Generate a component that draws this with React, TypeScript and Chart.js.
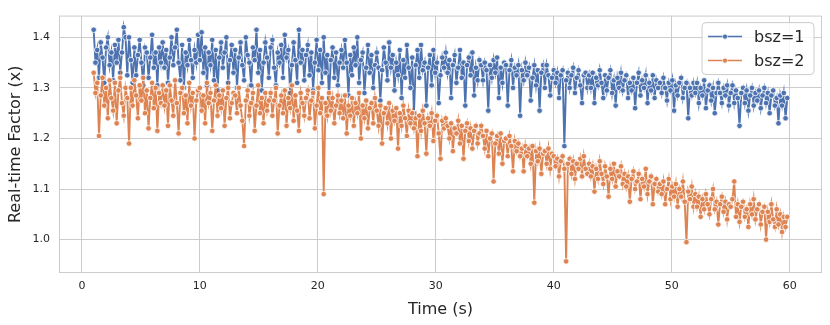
import React, { useEffect, useRef } from 'react';
import { Chart, registerables } from 'chart.js';
Chart.register(...registerables);

const START_TIME = 1.0;
const TIME_STEP = 0.15;

const bsz1: number[] = [
  1.415, 1.35, 1.375, 1.32, 1.39, 1.36, 1.31, 1.38, 1.40, 1.345, 1.37, 1.315, 1.385, 1.35, 1.395, 1.33, 1.37, 1.42, 1.40, 1.325,
  1.40, 1.355, 1.31, 1.38, 1.325, 1.365, 1.395, 1.35, 1.305, 1.38, 1.37, 1.32, 1.36, 1.405, 1.34, 1.37, 1.305, 1.38, 1.35, 1.39,
  1.34, 1.375, 1.31, 1.36, 1.40, 1.345, 1.38, 1.415, 1.35, 1.315, 1.385, 1.30, 1.37, 1.345, 1.395, 1.355, 1.32, 1.375, 1.35, 1.405,
  1.355, 1.41, 1.33, 1.38, 1.305, 1.37, 1.345, 1.395, 1.315, 1.375, 1.295, 1.36, 1.39, 1.34, 1.37, 1.40, 1.31, 1.355, 1.385, 1.33,
  1.375, 1.30, 1.36, 1.39, 1.345, 1.315, 1.40, 1.365, 1.35, 1.305, 1.38, 1.355, 1.415, 1.33, 1.375, 1.295, 1.35, 1.39, 1.36, 1.32,
  1.38, 1.395, 1.34, 1.305, 1.37, 1.35, 1.385, 1.32, 1.405, 1.36, 1.375, 1.29, 1.345, 1.39, 1.355, 1.31, 1.415, 1.35, 1.375, 1.315,
  1.365, 1.385, 1.325, 1.37, 1.295, 1.35, 1.395, 1.335, 1.375, 1.31, 1.40, 1.33, 1.365, 1.28, 1.355, 1.38, 1.32, 1.37, 1.305, 1.35,
  1.375, 1.34, 1.395, 1.35, 1.285, 1.365, 1.325, 1.38, 1.345, 1.40, 1.31, 1.355, 1.37, 1.29, 1.34, 1.385, 1.33, 1.365, 1.30, 1.345,
  1.37, 1.34, 1.275, 1.335, 1.38, 1.35, 1.315, 1.39, 1.34, 1.365, 1.295, 1.35, 1.325, 1.375, 1.28, 1.355, 1.32, 1.385, 1.34, 1.30,
  1.36, 1.25, 1.345, 1.375, 1.32, 1.385, 1.335, 1.35, 1.265, 1.34, 1.365, 1.305, 1.375, 1.33, 1.35, 1.27, 1.325, 1.36, 1.34, 1.37,
  1.33, 1.355, 1.28, 1.345, 1.365, 1.31, 1.34, 1.375, 1.32, 1.35, 1.265, 1.345, 1.36, 1.325, 1.37, 1.285, 1.34, 1.315, 1.355, 1.345,
  1.315, 1.35, 1.335, 1.255, 1.345, 1.32, 1.355, 1.33, 1.36, 1.28, 1.34, 1.31, 1.35, 1.345, 1.265, 1.335, 1.355, 1.30, 1.34, 1.325,
  1.345, 1.245, 1.335, 1.315, 1.35, 1.325, 1.34, 1.275, 1.32, 1.345, 1.305, 1.335, 1.255, 1.33, 1.345, 1.30, 1.345, 1.325, 1.285, 1.32,
  1.335, 1.31, 1.33, 1.28, 1.325, 1.335, 1.185, 1.315, 1.33, 1.30, 1.325, 1.34, 1.29, 1.32, 1.335, 1.305, 1.27, 1.325, 1.33, 1.30,
  1.325, 1.30, 1.33, 1.27, 1.32, 1.305, 1.335, 1.31, 1.28, 1.325, 1.295, 1.32, 1.335, 1.29, 1.315, 1.265, 1.32, 1.30, 1.33, 1.295,
  1.315, 1.325, 1.28, 1.31, 1.295, 1.32, 1.26, 1.31, 1.33, 1.285, 1.315, 1.30, 1.325, 1.27, 1.31, 1.295, 1.325, 1.28, 1.315, 1.30,
  1.31, 1.29, 1.32, 1.30, 1.275, 1.31, 1.295, 1.315, 1.255, 1.305, 1.285, 1.31, 1.32, 1.28, 1.30, 1.31, 1.24, 1.30, 1.285, 1.31,
  1.29, 1.31, 1.27, 1.30, 1.285, 1.315, 1.26, 1.295, 1.305, 1.275, 1.30, 1.25, 1.29, 1.31, 1.29, 1.27, 1.30, 1.285, 1.305, 1.265,
  1.29, 1.305, 1.27, 1.295, 1.28, 1.225, 1.29, 1.30, 1.27, 1.295, 1.255, 1.285, 1.30, 1.265, 1.29, 1.275, 1.295, 1.26, 1.285, 1.30,
  1.27, 1.29, 1.25, 1.285, 1.295, 1.265, 1.28, 1.23, 1.285, 1.265, 1.29, 1.24, 1.28,
];

const bsz2: number[] = [
  1.33, 1.29, 1.31, 1.205, 1.285, 1.32, 1.265, 1.30, 1.24, 1.315, 1.28, 1.255, 1.31, 1.23, 1.295, 1.32, 1.27, 1.245, 1.30, 1.28,
  1.19, 1.30, 1.265, 1.315, 1.285, 1.24, 1.305, 1.275, 1.32, 1.25, 1.295, 1.22, 1.28, 1.31, 1.26, 1.30, 1.215, 1.29, 1.27, 1.305,
  1.265, 1.295, 1.225, 1.305, 1.275, 1.245, 1.315, 1.27, 1.21, 1.29, 1.30, 1.25, 1.285, 1.23, 1.31, 1.265, 1.29, 1.20, 1.275, 1.295,
  1.30, 1.255, 1.285, 1.23, 1.31, 1.27, 1.29, 1.215, 1.275, 1.305, 1.245, 1.285, 1.26, 1.295, 1.225, 1.28, 1.30, 1.24, 1.27, 1.29,
  1.285, 1.25, 1.30, 1.265, 1.235, 1.185, 1.275, 1.295, 1.245, 1.27, 1.29, 1.215, 1.265, 1.305, 1.25, 1.28, 1.23, 1.29, 1.255, 1.275,
  1.29, 1.245, 1.275, 1.30, 1.21, 1.265, 1.285, 1.25, 1.295, 1.225, 1.28, 1.26, 1.305, 1.235, 1.285, 1.255, 1.215, 1.29, 1.27, 1.245,
  1.28, 1.295, 1.24, 1.275, 1.29, 1.22, 1.265, 1.30, 1.25, 1.28, 1.09, 1.27, 1.245, 1.29, 1.255, 1.28, 1.23, 1.265, 1.285, 1.25,
  1.275, 1.24, 1.285, 1.21, 1.265, 1.245, 1.28, 1.225, 1.27, 1.25, 1.29, 1.20, 1.265, 1.24, 1.275, 1.22, 1.26, 1.27, 1.23, 1.28,
  1.255, 1.225, 1.265, 1.19, 1.25, 1.26, 1.23, 1.27, 1.20, 1.255, 1.235, 1.26, 1.18, 1.25, 1.225, 1.265, 1.24, 1.205, 1.255, 1.23,
  1.25, 1.22, 1.24, 1.165, 1.245, 1.215, 1.255, 1.23, 1.17, 1.24, 1.225, 1.25, 1.195, 1.235, 1.245, 1.21, 1.16, 1.235, 1.22, 1.24,
  1.225, 1.20, 1.23, 1.175, 1.22, 1.21, 1.235, 1.19, 1.225, 1.16, 1.215, 1.23, 1.195, 1.22, 1.18, 1.215, 1.225, 1.19, 1.21, 1.225,
  1.205, 1.18, 1.215, 1.165, 1.20, 1.21, 1.115, 1.19, 1.205, 1.17, 1.21, 1.15, 1.195, 1.20, 1.165, 1.205, 1.185, 1.135, 1.195, 1.175,
  1.19, 1.165, 1.18, 1.135, 1.185, 1.165, 1.18, 1.15, 1.185, 1.073, 1.175, 1.155, 1.18, 1.13, 1.17, 1.175, 1.15, 1.18, 1.14, 1.17,
  1.165, 1.145, 1.16, 1.125, 1.155, 1.165, 1.14, 0.957, 1.15, 1.16, 1.13, 1.155, 1.12, 1.15, 1.14, 1.16, 1.125, 1.165, 1.14, 1.13,
  1.15, 1.125, 1.145, 1.095, 1.14, 1.12, 1.155, 1.13, 1.11, 1.145, 1.125, 1.085, 1.14, 1.12, 1.15, 1.105, 1.135, 1.125, 1.145, 1.11,
  1.13, 1.105, 1.125, 1.075, 1.12, 1.135, 1.10, 1.115, 1.13, 1.08, 1.12, 1.105, 1.14, 1.09, 1.115, 1.125, 1.07, 1.11, 1.12, 1.095,
  1.11, 1.09, 1.115, 1.07, 1.10, 1.12, 1.08, 1.105, 1.085, 1.11, 1.065, 1.10, 1.085, 1.115, 1.075, 0.995, 1.095, 1.08, 1.105, 1.065,
  1.09, 1.065, 1.085, 1.045, 1.08, 1.06, 1.09, 1.07, 1.05, 1.08, 1.10, 1.06, 1.075, 1.03, 1.07, 1.085, 1.055, 1.075, 1.04, 1.07,
  1.065, 1.08, 1.115, 1.045, 1.07, 1.035, 1.065, 1.075, 1.045, 1.06, 1.025, 1.07, 1.05, 1.08, 1.04, 1.06, 1.07, 1.03, 1.055, 1.065,
  1.00, 1.055, 1.035, 1.07, 1.04, 1.025, 1.06, 1.03, 1.05, 1.015, 1.045, 1.025, 1.045,
];

const seriesLabels = ['bsz=1', 'bsz=2'];
const seriesColors = ['#4c72b0', '#dd8452'];
const xTicks = [0, 10, 20, 30, 40, 50, 60];
const yTicks = [1.0, 1.1, 1.2, 1.3, 1.4];
const xTitle = 'Time (s)';
const yTitle = 'Real-time Factor (x)';

const FONT = "'DejaVu Sans', sans-serif";
const TEXT = '#262626';
const GRID = '#cccccc';

const framePlugin = {
  id: 'frame',
  beforeDatasetsDraw(chart: any) {
    const { ctx, chartArea: a } = chart;
    ctx.save();
    ctx.strokeStyle = GRID;
    ctx.lineWidth = 1;
    ctx.strokeRect(a.left + 0.5, a.top + 0.5, a.right - a.left - 1, a.bottom - a.top - 1);
    ctx.restore();
  },
};

const legendPlugin = {
  id: 'mplLegend',
  afterDraw(chart: any) {
    const { ctx, chartArea: a } = chart;
    const w = 112, h = 52;
    const x0 = a.right - 8 - w;
    const y0 = a.top + 7;
    ctx.save();
    ctx.beginPath();
    const r = 4;
    ctx.moveTo(x0 + r, y0);
    ctx.lineTo(x0 + w - r, y0);
    ctx.quadraticCurveTo(x0 + w, y0, x0 + w, y0 + r);
    ctx.lineTo(x0 + w, y0 + h - r);
    ctx.quadraticCurveTo(x0 + w, y0 + h, x0 + w - r, y0 + h);
    ctx.lineTo(x0 + r, y0 + h);
    ctx.quadraticCurveTo(x0, y0 + h, x0, y0 + h - r);
    ctx.lineTo(x0, y0 + r);
    ctx.quadraticCurveTo(x0, y0, x0 + r, y0);
    ctx.closePath();
    ctx.fillStyle = 'rgba(255,255,255,0.8)';
    ctx.fill();
    ctx.strokeStyle = GRID;
    ctx.lineWidth = 1;
    ctx.stroke();
    seriesLabels.forEach((label, i) => {
      const cy = y0 + 14 + i * 24;
      ctx.strokeStyle = seriesColors[i];
      ctx.lineWidth = 1.5;
      ctx.beginPath();
      ctx.moveTo(x0 + 6, cy);
      ctx.lineTo(x0 + 40, cy);
      ctx.stroke();
      ctx.beginPath();
      ctx.arc(x0 + 23, cy, 2.6, 0, Math.PI * 2);
      ctx.fillStyle = seriesColors[i];
      ctx.fill();
      ctx.strokeStyle = '#ffffff';
      ctx.lineWidth = 0.75;
      ctx.stroke();
      ctx.fillStyle = TEXT;
      ctx.font = `16px ${FONT}`;
      ctx.textBaseline = 'middle';
      ctx.textAlign = 'left';
      ctx.fillText(label, x0 + 52, cy + 1);
    });
    ctx.restore();
  },
};

export default function App() {
  const ref = useRef<HTMLCanvasElement | null>(null);
  useEffect(() => {
    if (!ref.current) return;
    const times = bsz1.map((_, i) => START_TIME + i * TIME_STEP);
    const series = [bsz1, bsz2];
    const chart = new Chart(ref.current, {
      type: 'line',
      data: {
        datasets: series.map((vals, i) => ({
          label: seriesLabels[i],
          data: vals.map((v, j) => ({ x: times[j], y: v })),
          borderColor: seriesColors[i],
          backgroundColor: seriesColors[i],
          pointBackgroundColor: seriesColors[i],
          pointBorderColor: '#ffffff',
          pointBorderWidth: 0.8,
          pointRadius: 2.8,
          borderWidth: 1.9,
          tension: 0,
          order: i === 0 ? 1 : 0,
        })),
      },
      options: {
        responsive: false,
        animation: false,
        layout: { padding: { top: 8, right: 8, left: 0, bottom: 0 } },
        plugins: { legend: { display: false }, tooltip: { enabled: false } },
        scales: {
          x: {
            type: 'linear',
            min: -1.94,
            max: 62.74,
            afterBuildTicks: (s: any) => { s.ticks = xTicks.map((v) => ({ value: v })); },
            afterFit: (s: any) => { s.height = 52; },
            grid: { color: GRID, drawTicks: false, lineWidth: 1 },
            border: { display: false },
            ticks: { color: TEXT, font: { family: FONT, size: 11 }, padding: 7, maxRotation: 0, callback: (v: any) => String(v) },
            title: { display: true, text: xTitle, color: TEXT, font: { family: FONT, size: 16 }, padding: { top: 0, bottom: 6 } },
          },
          y: {
            type: 'linear',
            min: 0.934,
            max: 1.443,
            afterBuildTicks: (s: any) => { s.ticks = yTicks.map((v) => ({ value: v })); },
            afterFit: (s: any) => { s.width = 59; },
            grid: { color: GRID, drawTicks: false, lineWidth: 1 },
            border: { display: false },
            ticks: { color: TEXT, font: { family: FONT, size: 11 }, padding: 9, callback: (v: any) => Number(v).toFixed(1) },
            title: { display: true, text: yTitle, color: TEXT, font: { family: FONT, size: 16 }, padding: { top: 6, bottom: 0 } },
          },
        },
      },
      plugins: [framePlugin, legendPlugin],
    });
    return () => chart.destroy();
  }, []);
  return (
    <div style={{ position: 'absolute', left: 0, top: 0, width: 830, height: 325, background: '#ffffff' }}>
      <canvas ref={ref} width={830} height={325} />
    </div>
  );
}
